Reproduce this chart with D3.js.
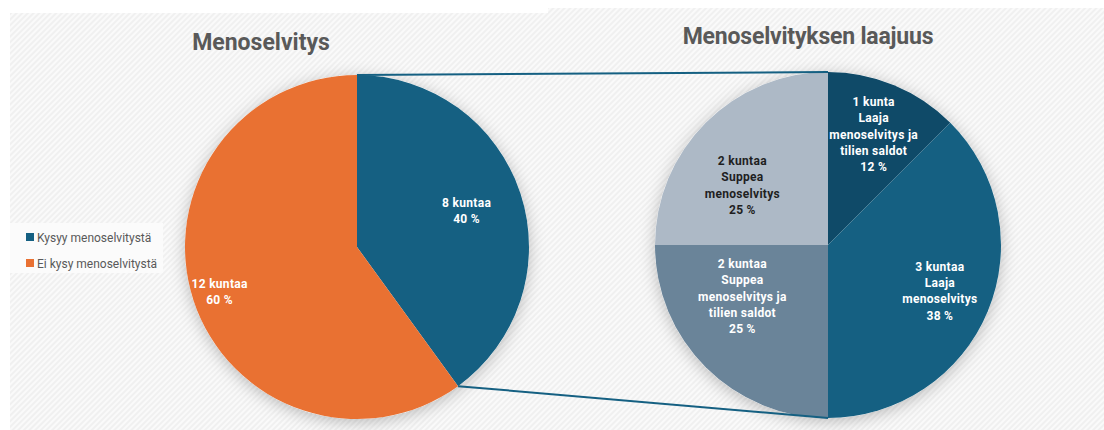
<!DOCTYPE html>
<html>
<head>
<meta charset="utf-8">
<script src="https://cdn.jsdelivr.net/npm/d3@7"></script>
<style>
  body { margin: 0; background: #fff; }
  text { font-family: Roboto, "Noto Sans", sans-serif; }
</style>
</head>
<body>
<div id="chart"></div>
<script>
// data
var mainCategories = ["Kysyy menoselvitystä", "Ei kysy menoselvitystä"];
var mainCounts = [8, 12];
var mainLabels = [["8 kuntaa", "40 %"], ["12 kuntaa", "60 %"]];

var detailCategories = ["Laaja menoselvitys ja tilien saldot", "Laaja menoselvitys",
  "Suppea menoselvitys ja tilien saldot", "Suppea menoselvitys"];
var detailCounts = [1, 3, 2, 2];
var detailLabels = [
  ["1 kunta", "Laaja", "menoselvitys ja", "tilien saldot", "12 %"],
  ["3 kuntaa", "Laaja", "menoselvitys", "38 %"],
  ["2 kuntaa", "Suppea", "menoselvitys ja", "tilien saldot", "25 %"],
  ["2 kuntaa", "Suppea", "menoselvitys", "25 %"]
];

var width = 1104, height = 430;

var svg = d3.select("#chart").append("svg")
  .attr("width", width)
  .attr("height", height);

var defs = svg.append("defs");

// diagonal hatch background
var pat = defs.append("pattern")
  .attr("id", "hatch")
  .attr("width", 4).attr("height", 4)
  .attr("patternUnits", "userSpaceOnUse")
  .attr("patternTransform", "rotate(45)");
pat.append("rect").attr("width", 4).attr("height", 4).attr("fill", "#fafafa");
pat.append("rect").attr("width", 2).attr("height", 4).attr("fill", "#f0f0f0");

var shadow = defs.append("filter").attr("id", "shadow")
  .attr("x", "-20%").attr("y", "-20%").attr("width", "140%").attr("height", "140%");
shadow.append("feDropShadow")
  .attr("dx", 0).attr("dy", 3)
  .attr("stdDeviation", 8)
  .attr("flood-color", "#000")
  .attr("flood-opacity", 0.25);

// panels
svg.append("rect").attr("x", 10).attr("y", 13).attr("width", 540).attr("height", height - 13)
  .attr("fill", "url(#hatch)");
svg.append("rect").attr("x", 548).attr("y", 8).attr("width", width - 548).attr("height", height - 8)
  .attr("fill", "url(#hatch)");

// titles
svg.append("text").attr("x", 261).attr("y", 50)
  .attr("text-anchor", "middle")
  .attr("font-size", 23).attr("font-weight", 700).attr("fill", "#595959")
  .text("Menoselvitys");
svg.append("text").attr("x", 808).attr("y", 44)
  .attr("text-anchor", "middle")
  .attr("font-size", 23).attr("font-weight", 700).attr("fill", "#595959")
  .attr("letter-spacing", -0.2)
  .text("Menoselvityksen laajuus");

// legend
var mainColor = d3.scaleOrdinal().domain(mainCategories).range(["#156082", "#e97132"]);
var legend = svg.append("g");
legend.append("rect").attr("x", 10).attr("y", 223).attr("width", 153).attr("height", 50)
  .attr("fill", "#fbfbfb");
var li = legend.selectAll("g.item").data(mainCategories).enter().append("g")
  .attr("transform", function (d, i) { return "translate(26," + (233 + i * 26) + ")"; });
li.append("rect").attr("width", 8).attr("height", 8).attr("fill", function (d) { return mainColor(d); });
li.append("text").attr("x", 11).attr("y", 8.5)
  .attr("font-size", 12).attr("fill", "#595959")
  .text(function (d) { return d; });

// left pie
var c1 = { x: 357, y: 247, r: 172 };
var pie = d3.pie().sort(null).value(function (d) { return d; });
var mainArcs = pie(mainCounts);
var arc1 = d3.arc().innerRadius(0).outerRadius(c1.r);

var g1 = svg.append("g").attr("transform", "translate(" + c1.x + "," + c1.y + ")");
g1.append("circle").attr("r", c1.r).attr("fill", "#fff").attr("filter", "url(#shadow)");
g1.selectAll("path").data(mainArcs).enter().append("path")
  .attr("d", arc1)
  .attr("fill", function (d, i) { return mainColor(mainCategories[i]); });

var mainLabelR = [0.67, 0.84];
g1.selectAll("text.lbl").data(mainArcs).enter().append("text")
  .attr("class", "lbl")
  .attr("text-anchor", "middle")
  .attr("font-size", 12).attr("font-weight", 700).attr("fill", "#fff")
  .attr("letter-spacing", 0.3)
  .each(function (d, i) {
    var r = c1.r * mainLabelR[i];
    var p = d3.arc().innerRadius(r).outerRadius(r).centroid(d);
    var lines = mainLabels[i];
    var t = d3.select(this);
    lines.forEach(function (s, k) {
      t.append("tspan").attr("x", p[0])
        .attr("y", p[1] + (k - (lines.length - 1) / 2) * 16 + 4)
        .text(s);
    });
  });

// right pie
var c2 = { x: 828, y: 245, r: 173 };
var detailColor = d3.scaleOrdinal().domain(detailCategories)
  .range(["#0f4a68", "#156082", "#6a8499", "#adb9c6"]);
var detailArcs = pie(detailCounts);
var arc2 = d3.arc().innerRadius(0).outerRadius(c2.r);

var g2 = svg.append("g").attr("transform", "translate(" + c2.x + "," + c2.y + ")");
g2.append("circle").attr("r", c2.r).attr("fill", "#fff").attr("filter", "url(#shadow)");
g2.selectAll("path").data(detailArcs).enter().append("path")
  .attr("d", arc2)
  .attr("fill", function (d, i) { return detailColor(detailCategories[i]); });

var detailLabelR = [0.69, 0.7, 0.7, 0.7];
var detailNudge = [0, 0, -34, 26];
var detailText = ["#fff", "#fff", "#fff", "#1f1f1f"];
g2.selectAll("text.lbl").data(detailArcs).enter().append("text")
  .attr("class", "lbl")
  .attr("text-anchor", "middle")
  .attr("font-size", 12).attr("font-weight", 700)
  .attr("letter-spacing", 0.3)
  .attr("fill", function (d, i) { return detailText[i]; })
  .each(function (d, i) {
    var r = c2.r * detailLabelR[i];
    var p = d3.arc().innerRadius(r).outerRadius(r).centroid(d);
    var lines = detailLabels[i];
    var t = d3.select(this);
    lines.forEach(function (s, k) {
      t.append("tspan").attr("x", p[0])
        .attr("y", p[1] + detailNudge[i] + (k - (lines.length - 1) / 2) * 16.3 + 4)
        .text(s);
    });
  });

// connector lines from the "Kysyy" slice to the detail pie
var a = mainArcs[0];
var p0 = [c1.x + c1.r * Math.sin(a.startAngle), c1.y - c1.r * Math.cos(a.startAngle)];
var p1 = [c1.x + c1.r * Math.sin(a.endAngle), c1.y - c1.r * Math.cos(a.endAngle)];
var conn = [
  [p0, [c2.x, c2.y - c2.r]],
  [p1, [c2.x, c2.y + c2.r]]
];
svg.selectAll("line.conn").data(conn).enter().append("line")
  .attr("class", "conn")
  .attr("x1", function (d) { return d[0][0]; })
  .attr("y1", function (d) { return d[0][1]; })
  .attr("x2", function (d) { return d[1][0]; })
  .attr("y2", function (d) { return d[1][1]; })
  .attr("stroke", "#156082").attr("stroke-width", 2);
</script>
</body>
</html>
